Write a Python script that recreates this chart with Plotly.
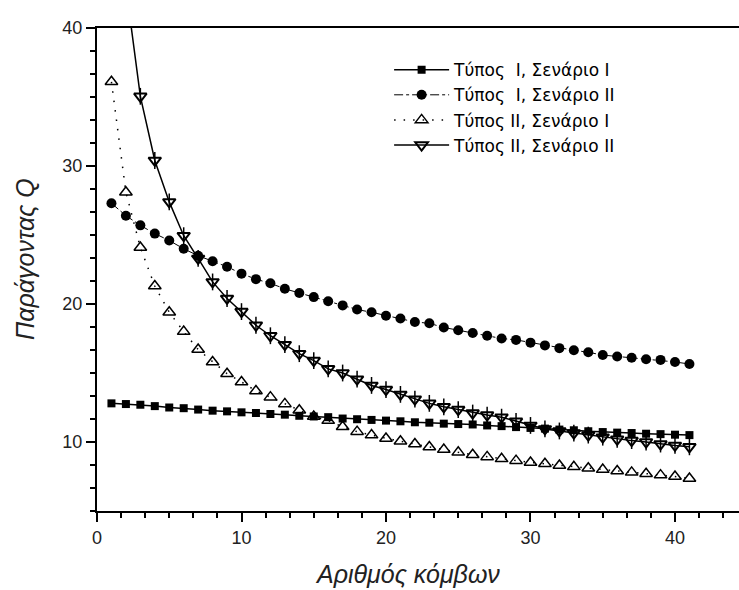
import plotly.graph_objects as go

nodes = list(range(1, 42))

type1_scen1 = [12.8, 12.75, 12.7, 12.6, 12.5, 12.45, 12.35, 12.27, 12.22, 12.15,
               12.1, 12.03, 11.98, 11.9, 11.85, 11.8, 11.7, 11.65, 11.6, 11.55,
               11.5, 11.43, 11.4, 11.33, 11.3, 11.27, 11.2, 11.15, 11.08, 11.02,
               10.97, 10.9, 10.85, 10.78, 10.72, 10.68, 10.65, 10.6, 10.57, 10.53, 10.5]

type1_scen2 = [27.3, 26.4, 25.7, 25.1, 24.6, 24.0, 23.5, 23.1, 22.7, 22.2,
               21.8, 21.5, 21.1, 20.8, 20.5, 20.2, 19.9, 19.6, 19.4, 19.15,
               18.95, 18.7, 18.6, 18.3, 18.1, 17.9, 17.7, 17.5, 17.4, 17.2,
               17.0, 16.8, 16.65, 16.5, 16.3, 16.2, 16.1, 16.0, 15.95, 15.8, 15.65]

type2_scen1 = [36.1, 28.1, 24.1, 21.3, 19.4, 18.0, 16.7, 15.8, 14.95, 14.35,
               13.7, 13.25, 12.76, 12.3, 11.85, 11.55, 11.1, 10.75, 10.5, 10.25,
               10.05, 9.85, 9.64, 9.45, 9.25, 9.08, 8.92, 8.78, 8.65, 8.52,
               8.42, 8.3, 8.2, 8.1, 8.0, 7.9, 7.8, 7.7, 7.6, 7.5, 7.35]

type2_scen2 = [58.0, 43.0, 35.05, 30.4, 27.4, 24.95, 23.3, 21.6, 20.4, 19.45,
               18.46, 17.7, 17.05, 16.4, 15.9, 15.3, 15.0, 14.55, 14.1, 13.8,
               13.45, 13.1, 12.8, 12.55, 12.35, 12.1, 11.95, 11.8, 11.5, 11.2,
               10.95, 10.8, 10.65, 10.5, 10.35, 10.2, 10.1, 10.0, 9.85, 9.75, 9.65]

names = ["Τύπος\u00a0\u00a0I, Σενάριο I",
         "Τύπος\u00a0\u00a0I, Σενάριο II",
         "Τύπος II, Σενάριο I",
         "Τύπος II, Σενάριο II"]

x_title = "Αριθμός κόμβων"
y_title = "Παράγοντας Q"

x_range = [0, 44.43]
y_range = [5, 40]
x_minor_ticks = [k * 10 / 6 for k in range(0, 27)]
y_minor_ticks = [k * 10 / 6 for k in range(3, 25)]

fig = go.Figure()

fig.add_trace(go.Scatter(
    x=nodes, y=type1_scen1, name=names[0], mode="lines+markers",
    line=dict(color="black", width=1.5),
    marker=dict(symbol="square", size=8, color="black")))

fig.add_trace(go.Scatter(
    x=nodes, y=type1_scen2, name=names[1], mode="lines+markers",
    line=dict(color="black", width=1, dash="dashdot"),
    marker=dict(symbol="circle", size=10, color="black")))

fig.add_trace(go.Scatter(
    x=nodes, y=type2_scen1, name=names[2], mode="lines+markers",
    line=dict(color="black", width=1.5, dash="1.5px,8px"),
    marker=dict(symbol="triangle-up-open", size=11, color="black",
                line=dict(width=1.5, color="black"))))

fig.add_trace(go.Scatter(
    x=nodes, y=type2_scen2, name=names[3], mode="lines+markers",
    line=dict(color="black", width=1.5),
    marker=dict(symbol="triangle-down-open", size=11, color="black",
                line=dict(width=2, color="black"))))

fig.add_trace(go.Scatter(
    x=nodes, y=type2_scen2, mode="markers", showlegend=False, hoverinfo="skip",
    marker=dict(symbol="line-ns-open", size=12, color="black",
                line=dict(width=1.5, color="black"))))

tick_font = dict(family="Liberation Sans, Arial, sans-serif", size=18, color="#222")

fig.update_layout(template="simple_white")

fig.update_xaxes(range=x_range, dtick=10, tick0=0,
                 ticks="outside", ticklen=9, tickwidth=2, tickcolor="black",
                 showline=True, linecolor="black", linewidth=2, mirror=True,
                 tickfont=tick_font,
                 minor=dict(tickvals=x_minor_ticks, ticks="outside", ticklen=5,
                            tickwidth=1.5, tickcolor="black"))
fig.update_yaxes(range=y_range, dtick=10, tick0=0,
                 ticks="outside", ticklen=9, tickwidth=2, tickcolor="black",
                 showline=True, linecolor="black", linewidth=2,
                 tickfont=tick_font,
                 minor=dict(tickvals=y_minor_ticks, ticks="outside", ticklen=5,
                            tickwidth=1.5, tickcolor="black"))

title_font = dict(family="Liberation Sans, Arial, sans-serif", size=25,
                  color="#222", style="italic")
fig.add_annotation(
    text=x_title, xref="paper", yref="paper", x=0.483, y=-0.130,
    xanchor="center", yanchor="middle", showarrow=False, font=title_font)
fig.add_annotation(
    text=y_title, xref="paper", yref="paper", x=-0.112, y=0.522,
    xanchor="center", yanchor="middle", showarrow=False, textangle=-90,
    font=title_font)

fig.update_layout(
    width=739, height=590,
    margin=dict(l=97, r=0, t=28, b=79),
    paper_bgcolor="white", plot_bgcolor="white",
    showlegend=True,
    legend=dict(x=0.455, y=0.95, xanchor="left", yanchor="top",
                bgcolor="rgba(0,0,0,0)", borderwidth=0,
                font=dict(family="DejaVu Sans, sans-serif", size=17, color="black"),
                itemwidth=55, tracegroupgap=0),
)

fig.write_html("out.html")
